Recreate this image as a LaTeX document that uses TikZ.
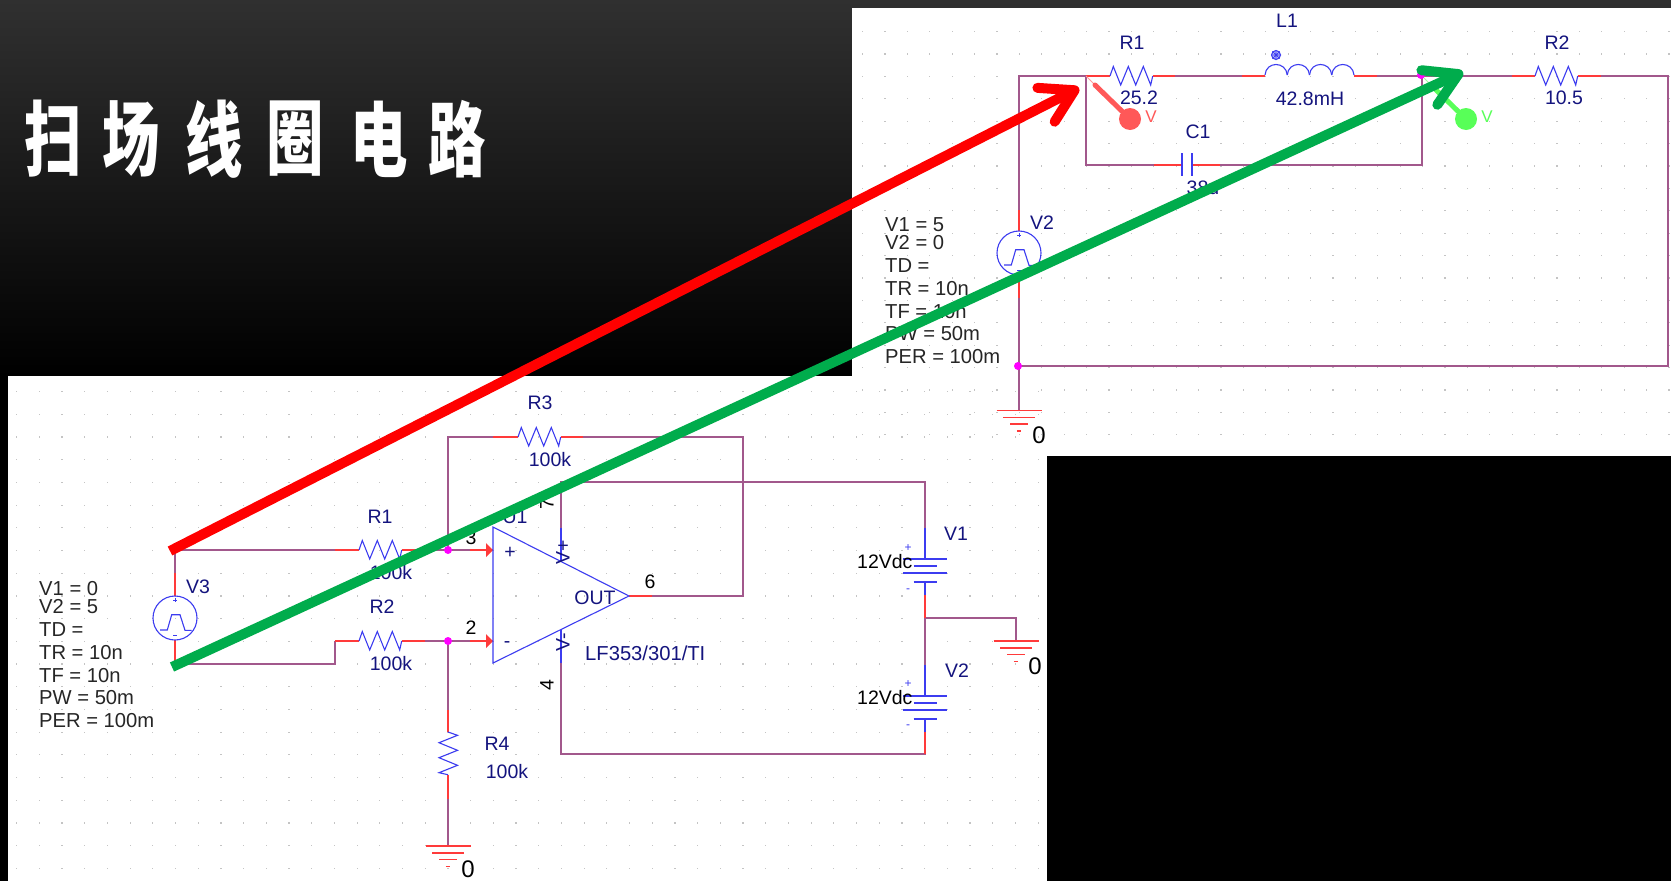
\documentclass[tikz,border=0pt]{standalone}
\usepackage{fontspec}
\setmainfont{Liberation Sans}
\newfontfamily\titlefont{Noto Sans CJK SC}
\usetikzlibrary{arrows.meta}
\definecolor{wirecol}{HTML}{A2588C}
\definecolor{stubcol}{HTML}{FF3A3A}
\definecolor{partcol}{HTML}{3C3CF0}
\definecolor{namecol}{HTML}{14147E}
\definecolor{dotcol}{HTML}{C4C4C4}
\definecolor{probered}{HTML}{FF5858}
\definecolor{probegreen}{HTML}{58FF58}
\definecolor{arrowgreen}{HTML}{00AC4C}
\definecolor{bgtop}{HTML}{303030}
\definecolor{juncol}{HTML}{FF00FF}
\tikzset{
  wire/.style={draw=wirecol, line width=1.3pt},
  stub/.style={draw=stubcol, line width=1.3pt},
  part/.style={draw=partcol, line width=1.1pt},
  namelabel/.style={font=\fontsize{19.5}{20}\selectfont, text=namecol, inner sep=0pt},
  paramlabel/.style={font=\fontsize{20.2}{21}\selectfont, text=black!85, inner sep=0pt, anchor=west},
  pinlabel/.style={font=\fontsize{19.5}{20}\selectfont, text=black, inner sep=0pt},
  zerolabel/.style={font=\fontsize{24}{25}\selectfont, text=black, inner sep=0pt},
  junction/.style={circle, fill=juncol, inner sep=0pt, minimum size=8pt},
  titlechar/.style={font=\titlefont\bfseries\fontsize{82}{82}\selectfont, text=white, inner sep=0pt, xscale=.7},
  bigarrow/.style={line width=10pt, -{Straight Barb[length=32pt, width=38pt, round]}},
  resbody/.pic={\draw[part] (0,0)--(3.3,-9.5)--(10.7,9)--(18.3,-9.5)--(25.7,9)--(33.3,-9.5)--(40.7,9)--(42.7,0);},
  pulsebody/.pic={
    \draw[part] (0,0) circle (22);
    \draw[part] (-15,12)--(-7.7,12)--(-3.3,-3.3)--(5,-3.3)--(10,12.3)--(16.7,12.3);
    \draw[part, line width=.8pt] (-2,-18)--(2,-18) (0,-20)--(0,-16) (-2,17)--(2,17);
  },
  groundbody/.pic={
    \draw[stub] (-22.5,0)--(22.5,0) (-16,7)--(16,7) (-9,13.5)--(9,13.5) (-2.2,20.5)--(2.2,20.5);
  },
  cellbody/.pic={
    \draw[part] (-22,0)--(22,0) (-11.5,7)--(11.5,7) (-22,14)--(22,14) (-11.5,23)--(11.5,23);
  },
}
\newcommand{\paramlist}[4]{%
  \node[paramlabel] at (#1,#2) {V1 = #3};
  \node[paramlabel] at (#1,#2+18) {V2 = #4};
  \node[paramlabel] at (#1,#2+41) {TD =};
  \node[paramlabel] at (#1,#2+64) {TR = 10n};
  \node[paramlabel] at (#1,#2+87) {TF = 10n};
  \node[paramlabel] at (#1,#2+109) {PW = 50m};
  \node[paramlabel] at (#1,#2+132) {PER = 100m};
}
\begin{document}
\begin{tikzpicture}[x=1pt, y=-1pt]
  \useasboundingbox (0,0) rectangle (1671,881);
  \fill[black] (0,0) rectangle (1671,881);
  \shade[top color=bgtop, bottom color=black] (0,0) rectangle (1671,376);
  \fill[white] (852,8) rectangle (1671,456);
  \fill[white] (8,376) rectangle (1047,881);
  \foreach \i in {0,...,36}
    \foreach \j in {0,...,18}
      \fill[dotcol] (862+\i*22.4,31+\j*22.4) rectangle ++(1.2,1.2);
  \foreach \i in {0,...,45}
    \foreach \j in {0,...,21}
      \fill[dotcol] (16+\i*22.7,391+\j*22.7) rectangle ++(1.2,1.2);

  \foreach \ch/\cx in {扫/53, 场/131, 线/214, 圈/295, 电/379, 路/457}
    \node[titlechar] (title\cx) at (\cx,139) {\ch};

  % coil circuit
  \coordinate (coilTL) at (1019,76);
  \coordinate (coilBL) at (1019,366);
  \coordinate (coilTR) at (1668,76);
  \coordinate (coilBR) at (1668,366);
  \coordinate (nodeA) at (1086,76);
  \coordinate (lcoilA) at (1265,76);
  \coordinate (lcoilB) at (1354,76);
  \coordinate (rtwoA) at (1535,76);
  \coordinate (rtwoB) at (1578,76);
  \coordinate (rcoilA) at (1110,76);
  \coordinate (rcoilB) at (1153,76);
  \coordinate (capbotL) at (1086,165);
  \coordinate (capbotR) at (1422,165);
  \coordinate (capA) at (1182,165);
  \coordinate (capB) at (1192,165);
  \coordinate (srcB) at (1019,231);
  \coordinate (srcC) at (1019,275);
  \coordinate (gndB) at (1019,410.5);

  \draw[wire] (coilBL) -- (srcC) (srcB) -- (coilTL) -- (rcoilA);
  \draw[wire] (rcoilB) -- (lcoilA) (lcoilB) -- (rtwoA) (rtwoB) -- (coilTR) -- (coilBR) -- (coilBL) -- (gndB);
  \draw[wire] (nodeA) -- (capbotL) -- (capA) (capB) -- (capbotR) -- (1422,76);
  \draw[stub] (nodeA) -- (rcoilA) (rcoilB) -- ++(22,0);
  \draw[stub] (lcoilA) -- ++(-23,0) (lcoilB) -- ++(23,0);
  \draw[stub] (rtwoA) -- ++(-23,0) (rtwoB) -- ++(23,0);
  \draw[stub] (capA) -- ++(-28,0) (capB) -- ++(28,0);
  \draw[stub] (srcB) -- ++(0,-21) (srcC) -- ++(0,23);

  \pic at (rcoilA) {resbody};
  \pic at (rtwoA) {resbody};
  \pic at (1019,253) {pulsebody};
  \pic at (gndB) {groundbody};
  \foreach \k in {0,1,2,3}
    \draw[part] (1265+\k*22.25,75) .. controls (1266+\k*22.25,61) and (1286+\k*22.25,61) .. (1287.25+\k*22.25,75);
  \draw[part] (capA) ++(0,-12) -- ++(0,23) (capB) ++(0,-12) -- ++(0,23);
  \node[circle, draw=partcol, fill=partcol!35, line width=1pt, inner sep=0pt, minimum size=9pt] (ldot) at (1276,55) {};
  \draw[partcol, line width=.7pt] (ldot.north) -- (ldot.south) (ldot.east) -- (ldot.west) (ldot.north east) -- (ldot.south west) (ldot.north west) -- (ldot.south east);

  \node[junction] (juncA) at (1421,75) {};
  \node[junction] (juncB) at (1018,366) {};

  \node[namelabel] (ronename) at (1132,43) {R1};
  \node[namelabel] (ronevalue) at (1139,98) {25.2};
  \node[namelabel] (lonename) at (1287,21) {L1};
  \node[namelabel] (lonevalue) at (1310,99) {42.8mH};
  \node[namelabel] (rtwoname) at (1557,43) {R2};
  \node[namelabel] (rtwovalue) at (1564,98) {10.5};
  \node[namelabel] (conename) at (1198,132) {C1};
  \node[namelabel] (conevalue) at (1203,188) {38u};
  \node[namelabel] (vtwoname) at (1042,223) {V2};
  \node[zerolabel] (gndzero) at (1039,435) {0};
  \paramlist{885}{225}{5}{0}

  % probes
  \node[circle, fill=probered, inner sep=0pt, minimum size=22pt] (probeR) at (1130,119) {};
  \node[circle, fill=probegreen, inner sep=0pt, minimum size=22pt] (probeG) at (1466,119) {};
  \coordinate (probeRtip) at (1095,85);
  \coordinate (probeGtip) at (1431,85);
  \draw[probered!60, line width=1pt] (nodeA) -- (probeRtip);
  \draw[probered, line width=5pt, line cap=round] (probeR) -- (probeRtip);
  \draw[probegreen!60, line width=1pt] (juncA) -- (probeGtip);
  \draw[probegreen, line width=5pt, line cap=round] (probeG) -- (probeGtip);
  \node[font=\fontsize{17}{18}\selectfont, text=probered, inner sep=0pt] (probeRv) at (1151,117) {V};
  \node[font=\fontsize{17}{18}\selectfont, text=probegreen, inner sep=0pt] (probeGv) at (1487,117) {V};

  % amplifier circuit
  \coordinate (srcTL) at (175,550);
  \coordinate (srcBL) at (175,664);
  \coordinate (rinA) at (359,550);
  \coordinate (rinB) at (402,550);
  \coordinate (rgnA) at (359,641);
  \coordinate (rgnB) at (402,641);
  \coordinate (stepB) at (335,664);
  \coordinate (stepT) at (335,641);
  \coordinate (juncPos) at (448,550);
  \coordinate (juncNeg) at (448,641);
  \coordinate (fbTL) at (448,437);
  \coordinate (fbA) at (518,437);
  \coordinate (fbB) at (561,437);
  \coordinate (fbTR) at (743,437);
  \coordinate (fbBR) at (743,596);
  \coordinate (ampIn) at (493,550);
  \coordinate (ampNeg) at (493,641);
  \coordinate (ampTip) at (629,596);
  \coordinate (vposT) at (561,482);
  \coordinate (vposB) at (561,528);
  \coordinate (vnegT) at (561,663);
  \coordinate (vnegB) at (561,754);
  \coordinate (railT) at (925,482);
  \coordinate (railB) at (925,754);
  \coordinate (cellA) at (925,559);
  \coordinate (cellB) at (925,696);
  \coordinate (midT) at (925,618);
  \coordinate (midR) at (1016,618);
  \coordinate (gndC) at (1016,641);
  \coordinate (rfourA) at (448,732);
  \coordinate (rfourB) at (448,775);
  \coordinate (gndD) at (448,846);

  \draw[wire] (srcTL) -- (335,550) (stepT) -- (stepB) -- (srcBL);
  \draw[wire] (srcTL) -- (175,596);
  \draw[wire] (rinB) -- (ampIn) (rgnB) -- (ampNeg);
  \draw[wire] (juncPos) -- (fbTL) -- (fbA) (fbB) -- (fbTR) -- (fbBR) -- (ampTip);
  \draw[wire] (juncNeg) -- (rfourA) (rfourB) -- (gndD);
  \draw[wire] (vposB) -- (vposT) -- (railT) -- (925,528);
  \draw[wire] (vnegT) -- (vnegB) -- (railB) -- (925,732);
  \draw[wire] (925,595) -- (925,665) (midT) -- (midR) -- (gndC);
  \draw[stub] (rinA) -- ++(-24,0) (rinB) -- ++(23,0);
  \draw[stub] (rgnA) -- (stepT) (rgnB) -- ++(23,0);
  \draw[stub] (175,573) -- (175,596) (175,640) -- (srcBL);
  \draw[stub] (fbA) -- ++(-25,0) (fbB) -- ++(22,0);
  \draw[stub] (ampTip) -- ++(23,0);
  \draw[stub] (rfourA) -- ++(0,-22) (rfourB) -- ++(0,24);
  \draw[stub] (925,595) -- (midT) (925,732) -- (railB);
  \draw[stub] (ampIn) -- ++(-23,0) (ampNeg) -- ++(-23,0);
  \fill[stubcol] (ampIn) -- ++(-7,-7) -- ++(0,14) -- cycle;
  \fill[stubcol] (ampNeg) -- ++(-7,-7) -- ++(0,14) -- cycle;

  \pic at (rinA) {resbody};
  \pic at (rgnA) {resbody};
  \pic at (fbA) {resbody};
  \pic[rotate=-90] at (rfourA) {resbody};
  \pic at (175,618) {pulsebody};
  \pic at (gndC) {groundbody};
  \pic at (gndD) {groundbody};
  \draw[part] (493,527) -- (ampTip) -- (493,663) -- cycle;
  \draw[part] (vposB) -- (561,562) (561,630) -- (vnegT);
  \draw[part] (cellA) ++(0,-31) -- (cellA) (cellB) ++(0,-31) -- (cellB);
  \draw[part] (925,582) -- (925,595) (925,719) -- (925,732);
  \pic at (cellA) {cellbody};
  \pic at (cellB) {cellbody};

  \node[junction] (juncP) at (juncPos) {};
  \node[junction] (juncN) at (juncNeg) {};

  \node[namelabel] (rinname) at (380,517) {R1};
  \node[namelabel] (rinvalue) at (391,573) {100k};
  \node[namelabel] (rgnname) at (382,607) {R2};
  \node[namelabel] (rgnvalue) at (391,664) {100k};
  \node[namelabel] (fbname) at (540,403) {R3};
  \node[namelabel] (fbvalue) at (550,460) {100k};
  \node[namelabel] (rfourname) at (497,744) {R4};
  \node[namelabel] (rfourvalue) at (507,772) {100k};
  \node[namelabel] (vthreename) at (198,587) {V3};
  \node[namelabel] (uonename) at (515,517) {U1};
  \node[namelabel] (vonename) at (956,534) {V1};
  \node[namelabel] (vtwobatt) at (957,671) {V2};
  \node[namelabel, anchor=west, font=\fontsize{20.2}{21}\selectfont] (ampname) at (585,653) {LF353/301/TI};
  \node[namelabel] (ampout) at (595,598) {OUT};
  \node[namelabel] (ampplus) at (510,553) {+};
  \node[namelabel] (ampminus) at (507,645) {-};
  \node[namelabel, rotate=90] (vposname) at (563,552) {V+};
  \node[namelabel, rotate=90] (vnegname) at (563,642) {V-};
  \node[pinlabel] (pinthree) at (471,538) {3};
  \node[pinlabel] (pintwo) at (471,628) {2};
  \node[pinlabel] (pinsix) at (650,582) {6};
  \node[pinlabel, rotate=90] (pinseven) at (547,504) {7};
  \node[pinlabel, rotate=90] (pinfour) at (547,685) {4};
  \node[pinlabel, anchor=west] (vdcone) at (857,562) {12Vdc};
  \node[pinlabel, anchor=west] (vdctwo) at (857,698) {12Vdc};
  \foreach \py/\ps in {548/+, 591/-, 684/+, 727/-}
    \node[namelabel, text=partcol, font=\fontsize{12}{12}\selectfont] (sign\py) at (908,\py) {\ps};
  \node[zerolabel] (zeroC) at (1035,666) {0};
  \node[zerolabel] (zeroD) at (468,869) {0};
  \paramlist{39}{589}{0}{5}

  % big arrows
  \coordinate (redstart) at (170,551);
  \coordinate (redtip) at (1079,88);
  \coordinate (greenstart) at (172,667);
  \coordinate (greentip) at (1463,72);
  \draw[red, bigarrow] (redstart) -- (redtip);
  \draw[arrowgreen, bigarrow] (greenstart) -- (greentip);
\end{tikzpicture}
\end{document}
